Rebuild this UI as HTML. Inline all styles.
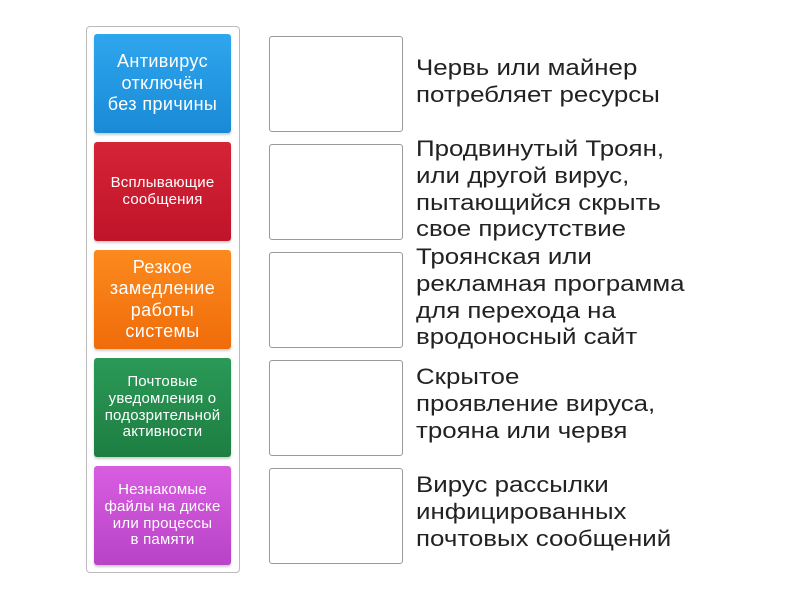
<!DOCTYPE html>
<html><head><meta charset="utf-8"><style>
body{margin:0;width:800px;height:600px;background:#fff;font-family:"Liberation Sans","DejaVu Sans",sans-serif;position:relative;overflow:hidden}
.outer{position:absolute;left:86px;top:26px;width:154px;height:547px;border:1px solid #bbb;border-radius:4px;box-sizing:border-box}
.t{position:absolute;left:94px;width:137px;height:99px;border-radius:3px;color:#fff;display:flex;align-items:center;justify-content:center;text-align:center;box-shadow:0 2px 2px rgba(0,0,0,.2)}
.L{font-size:18px;line-height:21.5px;letter-spacing:0.4px}
.S{font-size:15px;line-height:16.8px;letter-spacing:0.2px}
.b{position:absolute;left:269px;width:134px;height:96px;border:1px solid #999;border-radius:3px;box-sizing:border-box}
.r{position:absolute;left:416px;font-size:22.5px;line-height:26.8px;color:#222;transform:scaleX(1.15);transform-origin:0 0;white-space:nowrap}
</style></head><body>
<div class="outer"></div>
<div class="t L" style="top:34px;background:linear-gradient(#2ea6ee,#1a8ad6)">Антивирус<br>отключён<br>без причины</div>
<div class="t S" style="top:142px;background:linear-gradient(#d52436,#c0142a)">Всплывающие<br>сообщения</div>
<div class="t L" style="top:250px;background:linear-gradient(#fb8a1e,#f06c0a)">Резкое<br>замедление<br>работы<br>системы</div>
<div class="t S" style="top:358px;background:linear-gradient(#2b9957,#1d7e42)">Почтовые<br>уведомления о<br>подозрительной<br>активности</div>
<div class="t S" style="top:466px;background:linear-gradient(#d85ee0,#b843c6)">Незнакомые<br>файлы на диске<br>или процессы<br>в памяти</div>
<div class="b" style="top:36px"></div>
<div class="b" style="top:144px"></div>
<div class="b" style="top:252px"></div>
<div class="b" style="top:360px"></div>
<div class="b" style="top:468px"></div>
<div class="r" style="top:55px">Червь или майнер<br>потребляет ресурсы</div>
<div class="r" style="top:136px">Продвинутый Троян,<br>или другой вирус,<br>пытающийся скрыть<br>свое присутствие</div>
<div class="r" style="top:244px">Троянская или<br>рекламная программа<br>для перехода на<br>вродоносный сайт</div>
<div class="r" style="top:364px">Скрытое<br>проявление вируса,<br>трояна или червя</div>
<div class="r" style="top:472px">Вирус рассылки<br>инфицированных<br>почтовых сообщений</div>
</body></html>
